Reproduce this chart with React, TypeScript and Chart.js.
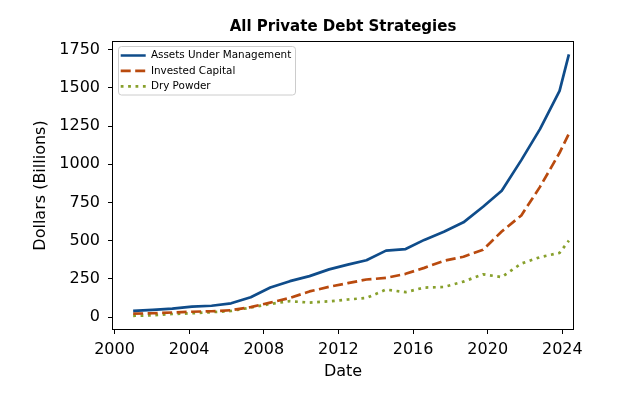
import React, { useEffect, useRef } from "react";
import { Chart, registerables } from "chart.js";

Chart.register(...registerables);

// Dates (decimal years)
const years = [
  2001.0, 2002.05, 2003.1, 2004.15, 2005.2, 2006.25, 2007.3, 2008.35, 2009.4, 2010.45,
  2011.5, 2012.5, 2013.5, 2014.55, 2015.6, 2016.6, 2017.65, 2018.7, 2019.75, 2020.75,
  2021.8, 2022.8, 2023.85, 2024.35,
];

// Dollars (Billions)
const aum = [
  41, 47, 55, 68, 74, 90, 130, 193, 235, 268,
  312, 343, 372, 435, 445, 505, 558, 620, 722, 827,
  1027, 1230, 1480, 1719,
];
const investedCapital = [
  22, 25, 30, 35, 38, 45, 65, 95, 125, 168,
  198, 222, 246, 256, 283, 322, 368, 395, 440, 560,
  665, 852, 1075, 1200,
];
const dryPowder = [
  8, 12, 20, 25, 32, 40, 62, 86, 104, 95,
  103, 115, 125, 180, 163, 193, 197, 232, 280, 262,
  350, 392, 420, 500,
];

const seriesLabels = ["Assets Under Management", "Invested Capital", "Dry Powder"];
const xTicks = [2000, 2004, 2008, 2012, 2016, 2020, 2024];
const yTicks = [0, 250, 500, 750, 1000, 1250, 1500, 1750];

const FONT = "DejaVu Sans";

export default function App() {
  const ref = useRef<HTMLCanvasElement>(null);

  useEffect(() => {
    if (!ref.current) return;
    const pts = (vals: number[]) => years.map((x, i) => ({ x, y: vals[i] }));

    const legendShift = {
      id: "legendShift",
      afterLayout(chart: any) {
        const lg = chart.legend;
        const ca = chart.chartArea;
        if (lg) {
          lg.left = ca.left + 2.7;
          lg.top = ca.top + 3.3;
          lg.bottom = ca.bottom;
          lg.right = ca.right;
        }
      },
    };

    const legendFrame = {
      id: "legendFrame",
      beforeDraw(chart: any) {
        const ca = chart.chartArea;
        const ctx = chart.ctx;
        ctx.save();
        ctx.beginPath();
        const x = ca.left + 5.5;
        const y = ca.top + 4.5;
        const w = 177;
        const h = 48.5;
        if ((ctx as any).roundRect) (ctx as any).roundRect(x, y, w, h, 3);
        else ctx.rect(x, y, w, h);
        ctx.fillStyle = "rgba(255,255,255,0.8)";
        ctx.fill();
        ctx.strokeStyle = "#cccccc";
        ctx.lineWidth = 1;
        ctx.stroke();
        ctx.restore();
      },
    };

    const spines = {
      id: "spines",
      afterDraw(chart: any) {
        const { left, top, right, bottom } = chart.chartArea;
        const ctx = chart.ctx;
        ctx.save();
        ctx.strokeStyle = "#000";
        ctx.lineWidth = 1;
        ctx.strokeRect(left - 0.5, top - 0.5, right - left + 1, bottom - top + 1);
        ctx.restore();
      },
    };

    const chart = new Chart(ref.current, {
      type: "line",
      data: {
        datasets: [
          {
            label: seriesLabels[0],
            data: pts(aum),
            borderColor: "#0f4c8a",
            borderWidth: 2.7,
            borderJoinStyle: "round",
            pointRadius: 0,
            tension: 0,
            fill: false,
          },
          {
            label: seriesLabels[1],
            data: pts(investedCapital),
            borderColor: "#b94a0e",
            borderWidth: 2.7,
            borderDash: [10, 4.5],
            borderCapStyle: "butt",
            borderJoinStyle: "round",
            pointRadius: 0,
            tension: 0,
            fill: false,
          },
          {
            label: seriesLabels[2],
            data: pts(dryPowder),
            borderColor: "#88a02c",
            borderWidth: 2.7,
            borderDash: [2.8, 4.6],
            borderCapStyle: "butt",
            borderJoinStyle: "round",
            pointRadius: 0,
            tension: 0,
            fill: false,
          },
        ],
      },
      options: {
        responsive: false,
        animation: false,
        devicePixelRatio: 1,
        layout: { padding: { left: 0, right: 51, top: 0, bottom: 0 } },
        plugins: {
          tooltip: { enabled: false },
          title: {
            display: true,
            text: "All Private Debt Strategies",
            fullSize: false,
            color: "#000",
            font: { family: FONT, size: 15, weight: "bold" },
            padding: { top: 18, bottom: 6 },
          },
          legend: {
            display: true,
            position: "chartArea",
            align: "start",
            labels: {
              usePointStyle: true,
              pointStyleWidth: 25,
              padding: 5,
              color: "#000",
              font: { family: FONT, size: 10.4 },
              generateLabels: (c: any) =>
                c.data.datasets.map((ds: any, i: number) => ({
                  text: ds.label,
                  strokeStyle: ds.borderColor,
                  fillStyle: ds.borderColor,
                  lineWidth: ds.borderWidth,
                  lineDash: ds.borderDash || [],
                  lineCap: "butt",
                  pointStyle: "line",
                  hidden: false,
                  datasetIndex: i,
                  fontColor: "#000",
                })),
            },
          },
        },
        scales: {
          x: {
            type: "linear",
            min: 1999.92,
            max: 2024.57,
            afterBuildTicks: (s: any) => {
              s.ticks = xTicks.map((v) => ({ value: v }));
            },
            afterFit: (s: any) => {
              s.height = 70;
            },
            border: { display: false },
            grid: {
              drawOnChartArea: false,
              drawTicks: true,
              tickLength: 5,
              tickColor: "#000",
              tickWidth: 1,
            },
            ticks: {
              autoSkip: false,
              maxRotation: 0,
              padding: 6,
              color: "#000",
              font: { family: FONT, size: 16 },
              callback: (v: any) => String(v),
            },
            title: {
              display: true,
              text: "Date",
              color: "#000",
              font: { family: FONT, size: 16 },
              padding: { top: 0, bottom: 17.4 },
            },
          },
          y: {
            type: "linear",
            min: -78,
            max: 1800,
            afterBuildTicks: (s: any) => {
              s.ticks = yTicks.map((v) => ({ value: v }));
            },
            afterFit: (s: any) => {
              s.width = 113;
            },
            border: { display: false },
            grid: {
              drawOnChartArea: false,
              drawTicks: true,
              tickLength: 5,
              tickColor: "#000",
              tickWidth: 1,
            },
            ticks: {
              autoSkip: false,
              padding: 8,
              color: "#000",
              font: { family: FONT, size: 16 },
              callback: (v: any) => String(v),
            },
            title: {
              display: true,
              text: "Dollars (Billions)",
              color: "#000",
              font: { family: FONT, size: 16 },
              padding: { top: 31.5, bottom: 0 },
            },
          },
        },
      } as any,
      plugins: [legendShift, legendFrame, spines],
    });

    return () => chart.destroy();
  }, []);

  return (
    <div style={{ position: "fixed", left: 0, top: 0, width: 624, height: 399, background: "#fff" }}>
      <canvas ref={ref} width={624} height={399} style={{ display: "block" }} />
    </div>
  );
}
